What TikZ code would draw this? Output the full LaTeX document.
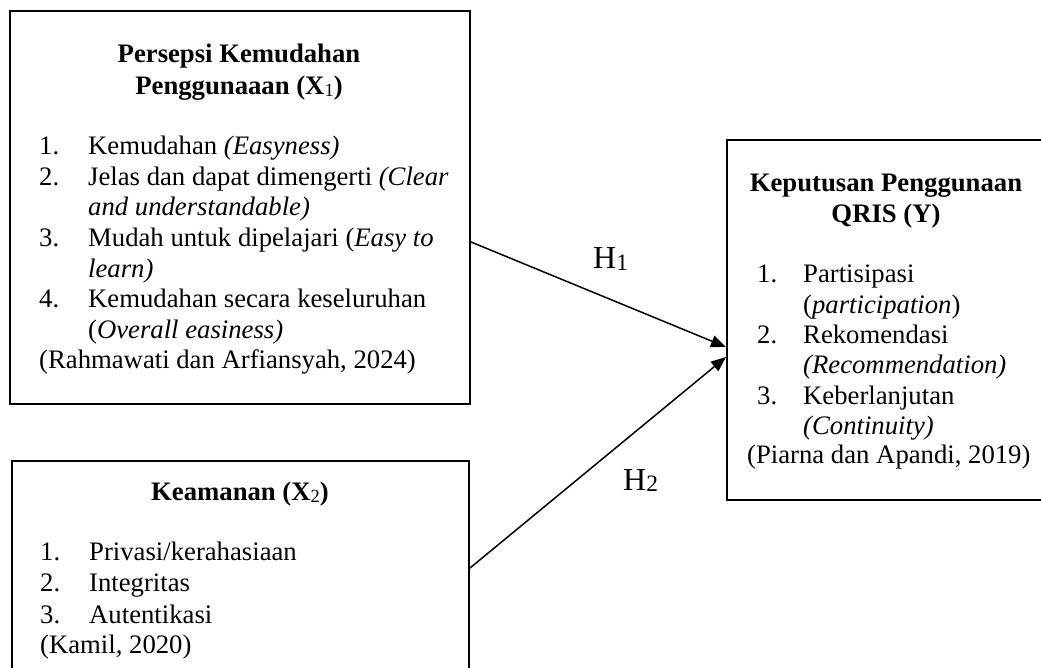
\documentclass[tikz,border=0pt]{standalone}
\usepackage{fontspec}
\setmainfont{Liberation Serif}
\usetikzlibrary{arrows.meta}
\newcommand{\sbx}[1]{\raisebox{-2pt}{\mdseries\fontsize{18.5}{18.5}\selectfont #1}}
\newcommand{\sbh}[1]{\raisebox{-1.5pt}{\fontsize{23.5}{23.5}\selectfont #1}}
\begin{document}
\begin{tikzpicture}[x=1pt,y=-1pt,
  box/.style={draw, line width=2pt, inner sep=0pt, anchor=north west},
  txt/.style={font=\fontsize{26.7}{30.5}\selectfont, inner sep=0pt, anchor=base west},
  ttl/.style={font=\fontsize{26.7}{30.5}\selectfont\bfseries, inner sep=0pt, anchor=base},
  hl/.style={font=\fontsize{32}{36}\selectfont, inner sep=0pt, anchor=base west},
  arr/.style={line width=1.5pt, -{Triangle[length=15pt,width=12pt]}}]
\useasboundingbox (0,0) rectangle (1041,668);
\begin{scope}
\clip (0,0) rectangle (1041,668);
% boxes
\node[box, minimum width=460pt, minimum height=393pt] (b1) at (9,10) {};
\node[box, minimum width=457pt, minimum height=240pt] (b2) at (11,460) {};
\node[box, minimum width=340pt, minimum height=360pt] (b3) at (726,139) {};
% box 1 text
\node[ttl] (t1a) at (239,63) {Persepsi Kemudahan};
\node[ttl] (t1b) at (239,95) {Penggunaaan (X\sbx{1})};
\node[txt] (n11) at (39,155) {1.};
\node[txt] (i11) at (88,155) {Kemudahan \textit{(Easyness)}};
\node[txt] (n12) at (39,185.5) {2.};
\node[txt] (i12) at (88,185.5) {Jelas dan dapat dimengerti \textit{(Clear}};
\node[txt] (i12b) at (88,216) {\textit{and understandable)}};
\node[txt] (n13) at (39,246.5) {3.};
\node[txt] (i13) at (88,246.5) {Mudah untuk dipelajari (\textit{Easy to}};
\node[txt] (i13b) at (88,277) {\textit{learn)}};
\node[txt] (n14) at (39,307.5) {4.};
\node[txt] (i14) at (88,307.5) {Kemudahan secara keseluruhan};
\node[txt] (i14b) at (88,338) {(\textit{Overall easiness)}};
\node[txt] (c1) at (39,368.5) {(Rahmawati dan Arfiansyah, 2024)};
% box 2 text
\node[ttl] (t2) at (240,500) {Keamanan (X\sbx{2})};
\node[txt] (n21) at (40,560) {1.};
\node[txt] (i21) at (89,560) {Privasi/kerahasiaan};
\node[txt] (n22) at (40,591.5) {2.};
\node[txt] (i22) at (89,591.5) {Integritas};
\node[txt] (n23) at (40,623) {3.};
\node[txt] (i23) at (89,623) {Autentikasi};
\node[txt] (c2) at (40,653.5) {(Kamil, 2020)};
% box 3 text
\node[ttl] (t3a) at (886,192) {Keputusan Penggunaan};
\node[ttl] (t3b) at (886,223) {QRIS (Y)};
\node[txt] (n31) at (757,283) {1.};
\node[txt] (i31) at (803,283) {Partisipasi};
\node[txt] (i31b) at (803,313) {(\textit{participation})};
\node[txt] (n32) at (757,343.5) {2.};
\node[txt] (i32) at (803,343.5) {Rekomendasi};
\node[txt] (i32b) at (803,373.5) {\textit{(Recommendation)}};
\node[txt] (n33) at (757,404.5) {3.};
\node[txt] (i33) at (803,404.5) {Keberlanjutan};
\node[txt] (i33b) at (803,434.5) {\textit{(Continuity)}};
\node[txt] (c3) at (747,463.5) {(Piarna dan Apandi, 2019)};
% connectors
\coordinate (s1) at (b1.east |- 0,242);
\coordinate (e1) at (b3.west |- 0,347);
\coordinate (s2) at (b2.east |- 0,568);
\coordinate (e2) at (b3.west |- 0,357);
\draw[arr] (s1) -- (e1);
\draw[arr] (s2) -- (e2);
\node[hl] (h1) at (593,269) {H\sbh{1}};
\node[hl] (h2) at (623,490) {H\sbh{2}};
\end{scope}
\end{tikzpicture}
\end{document}
